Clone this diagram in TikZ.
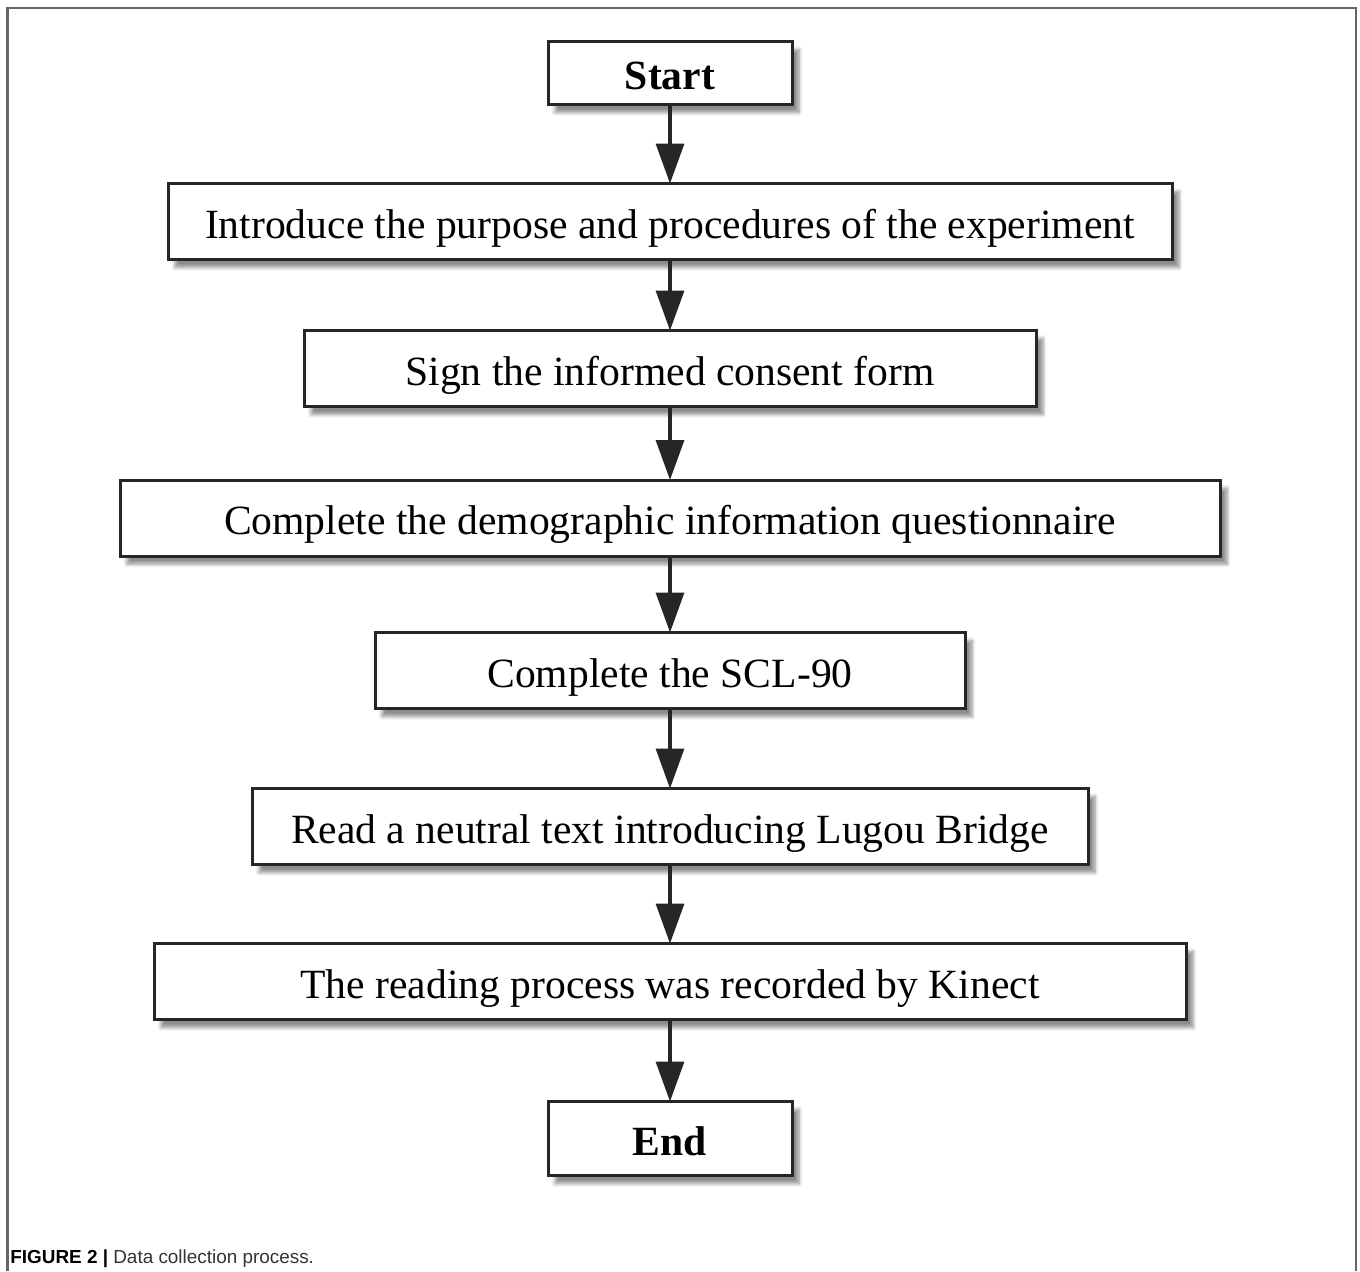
\documentclass[tikz,border=0pt]{standalone}
\usepackage{fontspec}
\setmainfont{Liberation Serif}
\newfontfamily\capfont{Liberation Sans}
\usetikzlibrary{positioning, arrows.meta, shadows.blur}

\begin{document}
\begin{tikzpicture}[
    font=\fontsize{20.8}{25}\selectfont,
    stepbox/.style={rectangle, draw=black!85, line width=1.5pt, fill=white, minimum height=38pt, text centered, inner sep=0pt, outer sep=0pt,
        text height=16.5pt, text depth=0pt,
        blur shadow={shadow xshift=3.5pt, shadow yshift=-4pt, shadow blur steps=8, shadow opacity=45}},
    endbox/.style={stepbox, font=\fontsize{20.8}{25}\selectfont\bfseries, minimum width=122pt},
    arrow/.style={-{Triangle[length=20pt, width=14pt]}, line width=1.7pt, draw=black!85},
    node distance=38pt
]
\useasboundingbox (0,0) rectangle (680pt,-635.5pt);

% Frame and caption
\draw[gray!80!black, line width=1.2pt] (3.8pt,-635.5pt) -- (3.8pt,-4pt) -- (678pt,-4pt) -- (678pt,-635.5pt);
\node[anchor=base west, inner sep=0pt, font=\capfont\fontsize{9.45}{11}\selectfont, text=black!80] (caption) at (5pt,-631.5pt)
    {\textbf{\color{black}FIGURE 2 |} Data collection process.};

% Steps
\node[endbox, minimum height=31.5pt] (start) at (335pt,-36.5pt) {Start};
\node[stepbox, minimum width=502pt, below=39.5pt of start] (intro) {Introduce the purpose and procedures of the experiment};
\node[stepbox, minimum width=366pt, below=35.5pt of intro] (consent) {Sign the informed consent form};
\node[stepbox, minimum width=550pt, below=36.75pt of consent] (demo) {Complete the demographic information questionnaire};
\node[stepbox, minimum width=295pt, below=38.25pt of demo] (scl) {Complete the SCL-90};
\node[stepbox, minimum width=418pt, below=40pt of scl] (reading) {Read a neutral text introducing Lugou Bridge};
\node[stepbox, minimum width=516pt, below=39.5pt of reading] (kinect) {The reading process was recorded by Kinect};
\node[endbox, minimum height=37pt, below=41pt of kinect] (end) {End};

% Arrows
\foreach \a/\b in {start/intro, intro/consent, consent/demo, demo/scl, scl/reading, reading/kinect, kinect/end}
    \draw[arrow] (\a) -- (\b);

\end{tikzpicture}
\end{document}
